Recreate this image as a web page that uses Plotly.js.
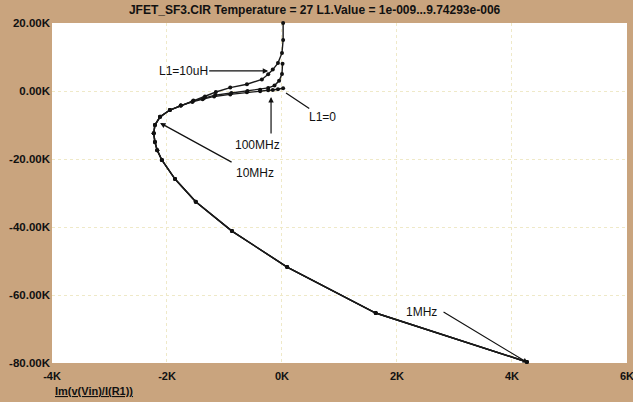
<!DOCTYPE html>
<html><head><meta charset="utf-8">
<script src="https://cdn.plot.ly/plotly-3.0.1.min.js"></script>
<style>html,body{margin:0;padding:0;background:#c9a47e;}#chart{width:633px;height:402px;}</style>
</head><body><div id="chart"></div>
<script>
// Shared low-frequency part (1MHz ... ~20MHz), values in ohms
const commonIm = [4260, 1630, 90, -870, -1500, -1860, -2090, -2170, -2210, -2230, -2210, -2120, -1950, -1760];
const commonRe = [-79700, -65300, -51800, -41200, -32600, -25900, -20300, -17400, -15000, -12400, -10000, -7600, -5600, -4300];
// High-frequency tails for each L1 step
const l1LowIm = [-1560, -1380, -1180, -900, -610, -380, -240, -160, -70, 20];
const l1LowRe = [-3200, -2400, -1600, -1000, -400, -100, 200, 300, 500, 800];
const l1MidIm = [-1550, -1360, -1160, -880, -600, -380, -240, -130, -50, 0, 10];
const l1MidRe = [-3000, -2100, -1200, -600, 0, 400, 900, 1600, 3000, 5000, 8000];
const l1HighIm = [-1540, -1340, -1150, -900, -610, -350, -240, -160, -70, 0, 20, 20];
const l1HighRe = [-2800, -1600, -300, 1000, 2000, 3400, 4900, 6300, 8200, 11200, 15000, 20000];

const xTickVals = [-4000, -2000, 0, 2000, 4000, 6000];
const xTickText = ['-4K', '-2K', '0K', '2K', '4K', '6K'];
const yTickVals = [20000, 0, -20000, -40000, -60000, -80000];
const yTickText = ['20.00K', '0.00K', '-20.00K', '-40.00K', '-60.00K', '-80.00K'];

function trace(xs, ys) {
  return {x: xs, y: ys, type: 'scatter', mode: 'lines+markers',
    line: {color: '#1a1a1a', width: 1.4}, marker: {color: '#111', size: 4},
    hoverinfo: 'skip', showlegend: false, cliponaxis: false};
}
const data = [
  trace(commonIm.concat(l1LowIm), commonRe.concat(l1LowRe)),
  trace(commonIm.concat(l1MidIm), commonRe.concat(l1MidRe)),
  trace(commonIm.concat(l1HighIm), commonRe.concat(l1HighRe))
];
const F = 'Liberation Sans, Arial, sans-serif';
const ann = (x, y, ax, ay, text, extra) => Object.assign({x: x, y: y, xref: 'x', yref: 'y', ax: ax, ay: ay,
  text: text, showarrow: true, arrowhead: 2, arrowsize: 0.9, arrowwidth: 1.2, arrowcolor: '#111',
  font: {family: F, size: 12, color: '#111'}}, extra || {});
const txt = (x, y, text) => ({x: x, y: y, xref: 'paper', yref: 'paper', xanchor: 'center', yanchor: 'middle',
  text: text, showarrow: false, font: {family: F, size: 12, color: '#111'}});
const px = v => (v - 52) / 575, py = v => (363 - v) / 340;

const layout = {
  width: 633, height: 402,
  paper_bgcolor: '#c9a47e', plot_bgcolor: '#ffffff',
  margin: {l: 52, r: 6, t: 23, b: 39},
  title: {text: 'JFET_SF3.CIR Temperature = 27 L1.Value = 1e-009...9.74293e-006',
    font: {family: F, size: 12, color: '#111', weight: 'bold'}, x: 0.497, xanchor: 'center', y: 0.975, yanchor: 'middle'},
  xaxis: {range: [-4000, 6001], tickvals: xTickVals, ticktext: xTickText, showline: false, zeroline: false,
    showgrid: true, gridcolor: '#efe9c8', griddash: 'dot', gridwidth: 1, ticks: '', ticklabelstandoff: 5,
    ticklabeloverflow: 'allow',
    tickfont: {family: F, size: 11, color: '#111', weight: 'bold'}},
  yaxis: {range: [-80000, 20000], tickvals: yTickVals, ticktext: yTickText, showline: false, zeroline: false,
    showgrid: true, gridcolor: '#efe9c8', griddash: 'dot', gridwidth: 1, ticks: '', ticklabelstandoff: 1,
    tickfont: {family: F, size: 11.5, color: '#111', weight: 'bold'}},
  annotations: [
    ann(-240, 5900, -85, 0, 'L1=10uH'),
    ann(70, -600, 36, 24, 'L1=0', {arrowhead: 0}),
    ann(-190, -1800, 0, 38, ''),
    txt(px(257), py(145), '100MHz'),
    ann(-2120, -9400, 73, 40, ''),
    txt(px(255), py(173), '10MHz'),
    ann(4280, -80000, -86, -52, ''),
    txt(px(422), py(312), '1MHz'),
    {x: px(53), y: py(391), xref: 'paper', yref: 'paper', xanchor: 'left', yanchor: 'middle', text: '<u>Im(v(Vin)/I(R1))</u>',
      showarrow: false, font: {family: F, size: 11, color: '#111', weight: 'bold'}}
  ]
};
Plotly.newPlot('chart', data, layout, {displayModeBar: false, staticPlot: true});
</script></body></html>
